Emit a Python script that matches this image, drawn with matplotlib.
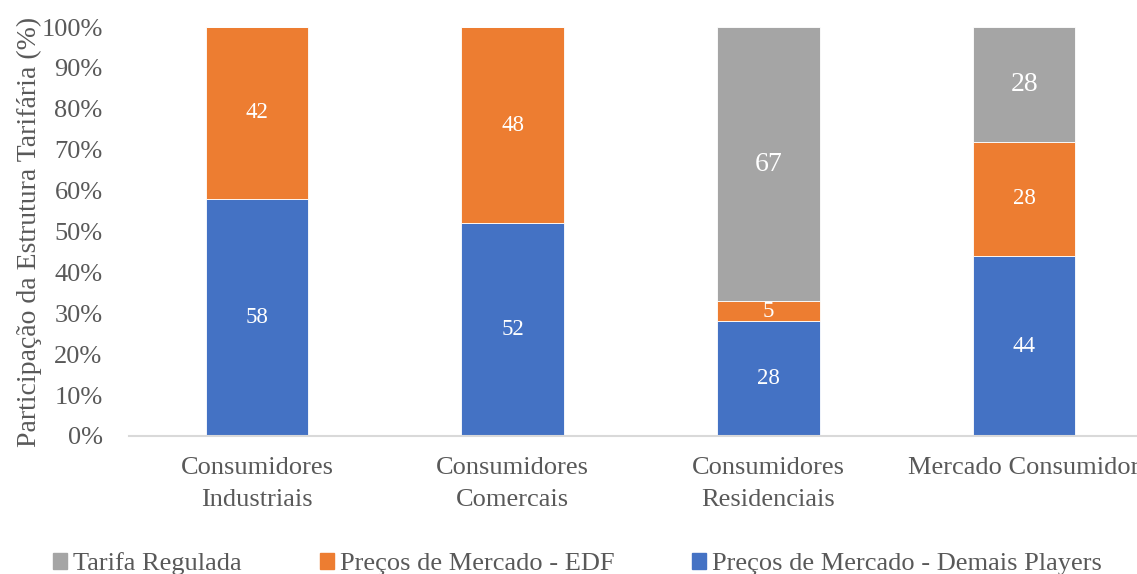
import numpy as np
import matplotlib.pyplot as plt
from matplotlib.patches import Patch

plt.rcParams['font.family'] = ['Liberation Serif', 'DejaVu Serif']

categorias = ["Consumidores\nIndustriais", "Consumidores\nComercais",
              "Consumidores\nResidenciais", "Mercado Consumidor"]
demais_players = [58, 52, 28, 44]
edf = [42, 48, 5, 28]
tarifa_regulada = [0, 0, 67, 28]

cor_azul = "#4472C4"
cor_laranja = "#ED7D31"
cor_cinza = "#A5A5A5"
cor_texto = "#595959"

fig = plt.figure(figsize=(11.37, 5.74), dpi=100)
ax = fig.add_axes([129 / 1137, 138 / 574, 1023 / 1137, 409 / 574])

x = np.arange(len(categorias))
largura = 0.4
base_edf = np.array(demais_players)
base_tarifa = base_edf + np.array(edf)

b1 = ax.bar(x, demais_players, largura, color=cor_azul, edgecolor="white", linewidth=0.6)
b2 = ax.bar(x, edf, largura, bottom=base_edf, color=cor_laranja, edgecolor="white", linewidth=0.6)
b3 = ax.bar(x, tarifa_regulada, largura, bottom=base_tarifa, color=cor_cinza, edgecolor="white", linewidth=0.6)

# rótulos de valor dentro de cada segmento
for barras, valores, tam in [(b1, demais_players, 16.5), (b2, edf, 16.5), (b3, tarifa_regulada, 20)]:
    labels = [str(v) if v > 0 else "" for v in valores]
    ax.bar_label(barras, labels=labels, label_type="center", color="white", fontsize=tam)

ax.set_xlim(-0.5, 3.5)
ax.set_ylim(0, 100)
ax.set_yticks(np.arange(0, 101, 10))
ax.set_yticklabels([f"{v}%" for v in range(0, 101, 10)])
ax.set_xticks(x)
ax.set_xticklabels(categorias, linespacing=1.6)
ax.tick_params(axis="y", length=0, pad=19, labelsize=19, labelcolor=cor_texto)
ax.tick_params(axis="x", length=0, pad=15, labelsize=19, labelcolor=cor_texto)

for lado in ["top", "right", "left"]:
    ax.spines[lado].set_visible(False)
ax.spines["bottom"].set_color("#D9D9D9")
ax.spines["bottom"].set_linewidth(1.5)

ax.set_ylabel("Participação da Estrutura Tarifária (%)", fontsize=20, color=cor_texto)
ax.yaxis.set_label_coords(-87 / 1023, 0.5)

handles = [Patch(color=cor_cinza), Patch(color=cor_laranja), Patch(color=cor_azul)]
nomes = ["Tarifa Regulada", "Preços de Mercado - EDF", "Preços de Mercado - Demais Players"]
fig.legend(handles, nomes, loc="center left", bbox_to_anchor=(53 / 1137, 10 / 574),
           ncol=3, frameon=False, fontsize=19, labelcolor=cor_texto,
           handlelength=0.53, handleheight=0.53, handletextpad=0.23,
           columnspacing=2.95, borderpad=0, borderaxespad=0)

fig.savefig("out.png", dpi=100)
